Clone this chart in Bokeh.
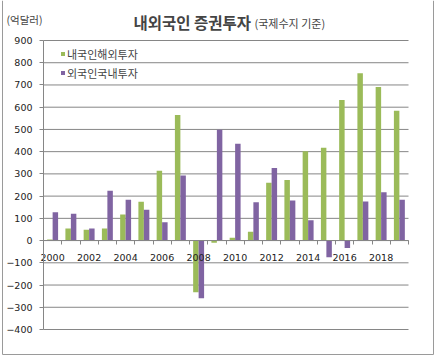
from bokeh.plotting import figure
from bokeh.models import ColumnDataSource, FixedTicker, Label, Legend, LegendItem, Range1d
from bokeh.embed import file_html
from bokeh.resources import INLINE

years = list(range(2000, 2020))
outward = [5, 54, 49, 54, 117, 175, 314, 565, -232, -10, 13, 40, 260, 273, 402, 418, 632, 753, 691, 584]
inward = [127, 121, 54, 224, 184, 139, 82, 293, -259, 499, 436, 172, 327, 180, 91, -75, -33, 176, 217, 184]
series_names = ["내국인해외투자", "외국인국내투자"]
y_ticks = [-400, -300, -200, -100, 0, 100, 200, 300, 400, 500, 600, 700, 800, 900]
x_label_years = [y for y in years if y % 2 == 0]

GREEN = "#9BBB59"
PURPLE = "#8064A2"
GRID = "#868686"
KR = "Noto Sans CJK KR"
NUM = "DejaVu Sans"

# layout (pixels): the plotting area inside the canvas
W, H = 434, 356
LEFT, RIGHT, TOP, BOTTOM = 43, 408, 40, 329

x_lo, x_hi = years[0] - 0.5, years[-1] + 0.5
y_lo, y_hi = y_ticks[0], y_ticks[-1]
pxx = (RIGHT - LEFT) / (x_hi - x_lo)
pxy = (BOTTOM - TOP) / (y_hi - y_lo)

p = figure(width=W, height=H, output_backend="svg", toolbar_location=None,
           x_range=Range1d(x_lo - LEFT / pxx, x_hi + (W - RIGHT) / pxx),
           y_range=Range1d(y_lo - (H - BOTTOM) / pxy, y_hi + TOP / pxy),
           min_border=0, min_border_left=0, min_border_right=0,
           min_border_top=0, min_border_bottom=0)
p.title.visible = False
p.outline_line_color = None
p.xgrid.visible = False
p.ygrid.visible = False

# horizontal gridlines limited to the plotting area
p.segment(x0=[x_lo] * len(y_ticks), x1=[x_hi] * len(y_ticks), y0=y_ticks, y1=y_ticks,
          line_color=GRID, line_width=1)

# outer chart border (left, right, bottom)
bx0 = x_lo - (LEFT - 2) / pxx
bx1 = x_hi + (433 - RIGHT) / pxx
by0 = y_lo - (354 - BOTTOM) / pxy
by1 = y_hi + TOP / pxy
p.segment(x0=[bx0, bx1, bx0], x1=[bx0, bx1, bx1], y0=[by0, by0, by0], y1=[by1, by1, by0],
          line_color="#9a9a9a", line_width=1)

src = ColumnDataSource(dict(
    x_g=[y - 0.15 for y in years],
    x_p=[y + 0.15 for y in years],
    out=outward,
    inn=inward,
))
r1 = p.vbar(x="x_g", top="out", width=0.3, source=src, fill_color=GREEN, line_color=None)
r2 = p.vbar(x="x_p", top="inn", width=0.3, source=src, fill_color=PURPLE, line_color=None)

# y axis at the left edge of the plotting area
p.yaxis.fixed_location = x_lo
p.yaxis.bounds = (y_lo, y_hi)
p.yaxis.ticker = FixedTicker(ticks=y_ticks)
p.yaxis.axis_line_color = GRID
p.yaxis.major_tick_line_color = GRID
p.yaxis.major_tick_out = 4
p.yaxis.major_tick_in = 0
p.yaxis.minor_tick_line_color = None
p.yaxis.major_label_standoff = 7
p.yaxis.major_label_text_font = NUM
p.yaxis.major_label_text_font_size = "9.5px"
p.yaxis.major_label_text_color = "#222222"

# x axis at zero
p.xaxis.fixed_location = 0
p.xaxis.bounds = (x_lo, x_hi)
p.xaxis.ticker = FixedTicker(ticks=x_label_years, minor_ticks=[y - 0.5 for y in years] + [x_hi])
p.xaxis.axis_line_color = GRID
p.xaxis.major_tick_out = 0
p.xaxis.major_tick_in = 0
p.xaxis.minor_tick_out = 4
p.xaxis.minor_tick_in = 0
p.xaxis.minor_tick_line_color = GRID
p.xaxis.major_label_standoff = 9
p.xaxis.major_label_text_font = NUM
p.xaxis.major_label_text_font_size = "9.5px"
p.xaxis.major_label_text_color = "#222222"

legend = Legend(items=[LegendItem(label=series_names[0], renderers=[r1]),
                       LegendItem(label=series_names[1], renderers=[r2])],
                location=(60, H - 81), border_line_color=None, background_fill_alpha=0,
                glyph_width=5, glyph_height=5, label_height=17, spacing=2, padding=0, margin=0,
                label_standoff=2, label_text_font=KR, label_text_font_size="11px")
p.add_layout(legend)

# screen units: measured from the frame's (= canvas's) bottom-left corner
p.add_layout(Label(x=133, y=H - 21, x_units="screen", y_units="screen", text="내외국인 증권투자",
                   text_font=KR, text_font_size="15.5px", text_font_style="bold",
                   text_baseline="middle"))
p.add_layout(Label(x=254, y=H - 22, x_units="screen", y_units="screen", text="(국제수지 기준)",
                   text_font=KR, text_font_size="11px", text_baseline="middle"))
p.add_layout(Label(x=6, y=H - 19, x_units="screen", y_units="screen", text="(억달러)",
                   text_font=KR, text_font_size="10.5px", text_baseline="middle"))

open("out.html", "w").write(file_html(p, INLINE))
